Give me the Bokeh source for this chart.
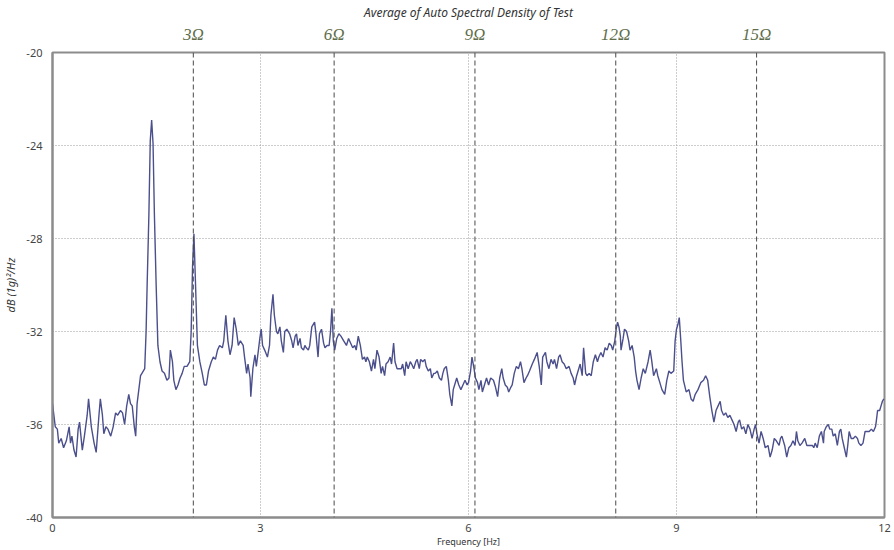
from bokeh.plotting import figure
from bokeh.models import Range1d, LinearAxis, FixedTicker, Span
from bokeh.embed import file_html
from bokeh.resources import INLINE

# ---- data ----
freq = [0.00,0.04,0.07,0.09,0.125,0.16,0.20,0.24,0.26,0.28,0.31,0.34,0.37,0.39,0.43,0.46,0.50,0.52,0.56,0.60,
        0.63,0.67,0.69,0.72,0.74,0.77,0.80,0.84,0.875,0.91,0.94,0.98,1.01,1.04,1.07,1.10,1.125,1.15,1.18,1.20,
        1.22,1.245,1.27,1.29,1.33,1.35,1.365,1.39,1.41,1.43,1.45,1.47,1.495,1.52,1.55,1.58,1.615,1.65,1.68,1.70,
        1.73,1.75,1.78,1.81,1.84,1.87,1.90,1.94,1.98,2.00,2.02,2.04,
        2.06,2.09,2.125,2.16,2.19,2.22,2.25,2.29,2.32,2.35,2.38,2.41,2.45,2.47,2.50,2.53,2.56,2.59,2.62,2.65,
        2.68,2.71,2.75,2.77,2.80,2.82,2.85,2.86,2.89,2.92,2.94,2.97,2.99,3.01,3.03,3.06,3.10,3.13,3.15,3.18,
        3.20,3.23,3.25,3.28,3.30,3.33,3.35,3.38,3.42,3.45,3.47,3.50,3.52,3.54,3.57,3.59,3.62,3.64,3.66,3.69,
        3.71,3.74,3.78,3.80,3.83,3.85,3.88,3.91,3.93,3.96,3.99,4.01,4.03,4.05,4.07,4.10,4.13,4.16,4.20,4.24,4.27,
        4.33,4.36,4.38,4.41,4.44,4.47,4.50,4.52,4.54,4.57,4.60,4.63,4.65,4.68,4.71,4.74,4.76,4.79,4.81,4.84,
        4.87,4.89,4.92,4.94,4.97,5.00,5.03,5.05,5.08,5.10,5.13,5.16,5.18,5.21,5.24,5.26,5.29,5.31,5.34,5.37,
        5.39,5.42,5.45,5.47,5.50,5.52,5.55,5.58,5.61,5.63,5.65,5.68,5.71,5.73,5.76,5.78,5.80,5.83,5.86,5.89,
        5.92,5.95,5.98,6.00,6.03,6.05,6.08,6.10,6.13,6.15,6.18,6.20,6.23,6.26,6.29,
        6.32,6.36,6.39,6.42,6.45,6.48,6.50,6.53,6.56,6.58,6.61,6.63,6.66,6.69,6.72,6.75,6.77,6.80,6.83,6.85,
        6.88,6.92,6.95,6.99,7.02,7.05,7.07,7.11,7.13,7.16,7.19,7.22,7.24,7.27,7.30,7.32,7.35,7.38,7.41,7.45,
        7.48,7.51,7.53,7.56,7.59,7.61,7.64,7.66,7.69,7.71,7.74,7.77,7.80,7.83,7.86,7.88,7.91,7.94,7.97,8.00,
        8.03,8.06,8.08,8.11,8.13,8.15,8.17,8.19,8.20,8.23,8.25,8.28,8.31,8.33,8.36,8.39,8.41,8.43,8.46,
        8.49,8.52,8.55,8.59,8.62,8.64,8.67,8.71,8.73,8.76,8.79,8.83,8.86,8.89,8.92,8.96,8.98,9.00,9.02,9.04,
        9.06,9.08,9.10,9.14,9.18,9.21,9.24,9.27,9.31,9.35,9.39,9.42,9.45,9.48,9.51,9.54,9.57,9.60,9.63,9.65,
        9.68,9.71,9.74,9.77,9.80,9.83,9.86,9.89,9.91,9.94,9.97,10.00,10.03,10.06,10.09,10.12,10.14,10.16,10.19,10.22,
        10.25,10.28,10.32,10.35,10.38,10.41,10.44,10.48,10.50,10.52,10.56,10.59,10.62,10.65,10.68,10.71,10.73,10.75,10.78,10.81,
        10.85,10.88,10.91,10.93,10.96,10.98,11.00,11.03,11.06,11.09,11.12,11.13,11.16,11.19,11.21,11.24,11.26,11.29,11.32,11.35,
        11.37,11.39,11.42,11.45,11.47,11.49,11.52,11.55,11.58,11.61,11.63,11.66,11.69,11.72,11.75,11.78,11.81,11.84,11.87,11.88,
        11.90,11.93,11.95,11.97,11.99]

psd = [-35.1,-36.1,-36.2,-36.8,-36.6,-37.0,-36.7,-36.1,-36.8,-36.5,-37.1,-37.4,-36.2,-35.9,-37.1,-36.5,-35.6,-34.9,-36.1,-36.8,
       -37.2,-35.6,-34.9,-35.6,-36.4,-36.1,-36.2,-36.5,-36.1,-35.5,-35.6,-35.4,-35.5,-36.0,-35.2,-34.7,-35.1,-35.2,-36.1,-36.5,
       -35.1,-34.5,-33.9,-33.8,-33.6,-32.0,-30.0,-27.0,-23.8,-22.9,-23.9,-27.0,-30.0,-32.6,-33.3,-33.7,-33.8,-34.1,-34.0,-32.8,
       -33.3,-34.1,-34.5,-34.3,-34.0,-33.8,-33.5,-33.5,-33.3,-32.0,-29.2,-27.8,
       -29.7,-32.6,-33.3,-33.8,-34.3,-34.3,-33.7,-33.3,-33.1,-33.2,-32.8,-32.6,-32.7,-32.4,-31.3,-32.4,-33.0,-32.6,-31.4,-31.9,
       -32.6,-32.4,-32.6,-33.1,-33.8,-33.4,-34.0,-34.8,-33.6,-33.0,-33.5,-32.8,-32.3,-31.9,-32.6,-32.8,-33.1,-32.6,-31.3,-30.4,
       -31.3,-32.0,-32.1,-31.8,-32.4,-32.9,-32.0,-31.9,-32.1,-32.4,-32.7,-32.2,-32.1,-32.6,-32.3,-32.7,-32.8,-32.6,-32.7,-32.8,
       -32.6,-31.8,-31.6,-32.1,-33.1,-32.1,-31.9,-32.5,-32.7,-32.6,-32.6,-32.0,-31.0,-32.4,-32.8,-32.3,-32.1,-32.2,-32.4,-32.6,-32.3,
       -32.7,-32.6,-32.8,-32.2,-32.6,-33.2,-33.1,-33.3,-33.1,-33.3,-33.7,-33.2,-33.6,-32.8,-33.1,-33.8,-33.5,-33.9,-33.4,-33.3,
       -33.1,-33.4,-32.5,-33.3,-33.6,-33.6,-33.6,-33.4,-33.9,-33.3,-33.6,-33.3,-33.4,-33.6,-33.3,-33.2,-33.6,-33.2,-33.3,-33.2,
       -33.5,-33.7,-33.6,-34.0,-33.8,-33.8,-33.7,-34.0,-34.1,-33.8,-33.6,-33.5,-34.1,-34.7,-35.2,-34.5,-34.3,-34.0,-34.3,-34.5,
       -34.3,-34.1,-34.3,-34.2,-33.7,-33.1,-33.6,-34.0,-34.2,-34.5,-34.1,-34.6,-34.3,-34.0,-34.3,
       -34.0,-34.1,-34.4,-34.8,-34.0,-33.6,-34.0,-34.3,-34.4,-34.6,-34.4,-34.3,-33.8,-33.5,-33.6,-33.3,-33.6,-34.2,-34.0,-33.9,
       -33.7,-33.4,-33.2,-32.9,-33.5,-34.3,-33.1,-32.9,-33.3,-33.6,-33.2,-33.4,-33.2,-33.6,-33.1,-33.0,-33.3,-33.4,-33.6,-33.5,
       -33.8,-34.0,-34.3,-33.9,-33.6,-33.4,-33.9,-32.7,-33.8,-33.9,-33.8,-33.9,-33.3,-33.0,-33.3,-33.1,-32.9,-33.1,-32.7,-32.8,
       -32.5,-32.6,-32.8,-32.4,-31.9,-31.6,-31.8,-32.2,-32.8,-32.3,-31.9,-32.0,-32.4,-32.8,-32.6,-33.1,-33.7,-34.1,-34.5,
       -34.0,-33.6,-33.8,-33.3,-32.8,-33.2,-33.9,-33.6,-33.9,-34.2,-34.5,-34.7,-34.1,-33.7,-33.8,-33.7,-32.4,-31.9,-31.7,-31.4,
       -32.3,-33.3,-34.1,-34.6,-34.5,-34.9,-35.0,-34.7,-34.5,-34.2,-34.1,-33.9,-34.1,-34.8,-35.4,-35.9,-35.4,-35.2,-35.0,-35.4,
       -35.6,-35.5,-35.7,-35.6,-35.8,-36.0,-36.3,-35.9,-35.8,-36.2,-36.1,-36.4,-36.0,-36.2,-36.6,-36.2,-36.0,-36.4,-36.8,-36.3,
       -36.6,-37.0,-36.9,-37.4,-37.1,-36.6,-36.7,-36.9,-36.6,-36.5,-36.9,-37.4,-37.0,-36.9,-36.7,-36.9,-36.3,-36.7,-36.9,-36.8,
       -36.6,-36.9,-36.9,-36.9,-36.9,-37.0,-36.8,-37.0,-36.5,-36.3,-36.8,-36.3,-36.1,-36.0,-36.2,-36.2,-36.5,-36.4,-36.9,-36.3,
       -36.2,-36.6,-37.0,-37.4,-36.9,-36.3,-36.6,-36.6,-36.5,-36.6,-36.8,-36.9,-36.8,-36.3,-36.3,-36.3,-36.2,-36.3,-36.1,-35.9,
       -35.4,-35.4,-35.2,-35.0,-34.9]

omega = 0.677                      # rotation frequency, Hz
orders = [3, 6, 9, 12, 15]
order_labels = ["3Ω", "6Ω", "9Ω", "12Ω", "15Ω"]
x_ticks = [0, 3, 6, 9, 12]
y_ticks = [-40, -36, -32, -28, -24, -20]
y_tick_labels = ["-40", "-36", "-32", "-28", "-24", "-20"]

title_text = "Average of Auto Spectral Density of Test"
x_label = "Frequency [Hz]"
y_label = "dB (1g)²/Hz"

# ---- figure ----
p = figure(width=894, height=550, x_range=Range1d(0, 12), y_range=Range1d(-40, -20),
           output_backend="svg", toolbar_location=None,
           min_border_left=52, min_border_right=10, min_border_top=10, min_border_bottom=10)
p.background_fill_color = "white"
p.border_fill_color = "white"
p.outline_line_color = "#8c8c8c"
p.outline_line_width = 2

p.title.text = title_text
p.title.align = "center"
p.title.text_font = "Noto Sans"
p.title.text_font_style = "italic"
p.title.text_font_size = "12px"
p.title.text_color = "#333333"
p.title.standoff = 2

xb = p.below[0]
yl = p.left[0]

# harmonic order axis on top
h_pos = [round(n * omega, 3) for n in orders]
top = LinearAxis(ticker=FixedTicker(ticks=h_pos),
                 major_label_overrides={pos: lab for pos, lab in zip(h_pos, order_labels)})
top.axis_line_color = None
top.major_tick_line_color = None
top.minor_tick_line_color = None
top.major_label_text_font = "Liberation Serif"
top.major_label_text_font_style = "italic"
top.major_label_text_font_size = "17px"
top.major_label_text_color = "#5f6d4a"
top.major_label_standoff = 3
p.add_layout(top, "above")

for pos in h_pos:
    p.add_layout(Span(location=pos, dimension="height", line_color="#4a4a4a",
                      line_dash="5 3", line_width=1))

# grid
p.xgrid.ticker = FixedTicker(ticks=x_ticks)
p.ygrid.ticker = FixedTicker(ticks=y_ticks)
for g in (p.xgrid, p.ygrid):
    g.grid_line_color = "#9a9a9a"
    g.grid_line_dash = "1 2"
    g.grid_line_width = 1

# axes
xb.ticker = FixedTicker(ticks=x_ticks)
yl.ticker = FixedTicker(ticks=y_ticks)
yl.major_label_overrides = {t: s for t, s in zip(y_ticks, y_tick_labels)}
for ax in (xb, yl):
    ax.axis_line_color = "#8c8c8c"
    ax.axis_line_width = 2
    ax.major_tick_line_color = None
    ax.minor_tick_line_color = None
    ax.major_label_text_font = "Noto Sans"
    ax.major_label_text_font_size = "11px"
    ax.major_label_text_color = "#444444"
    ax.axis_label_text_font = "Noto Sans"
    ax.axis_label_text_color = "#333333"
xb.major_label_standoff = 0
xb.axis_label = x_label
xb.axis_label_text_font_size = "9px"
xb.axis_label_text_font_style = "normal"
xb.axis_label_standoff = 0
yl.major_label_standoff = 4
yl.axis_label = y_label
yl.axis_label_text_font_size = "11px"
yl.axis_label_text_font_style = "italic"
yl.axis_label_standoff = 5

p.line(freq, psd, line_color="#4b4f8c", line_width=1.4)

open("out.html", "w").write(file_html(p, INLINE))
